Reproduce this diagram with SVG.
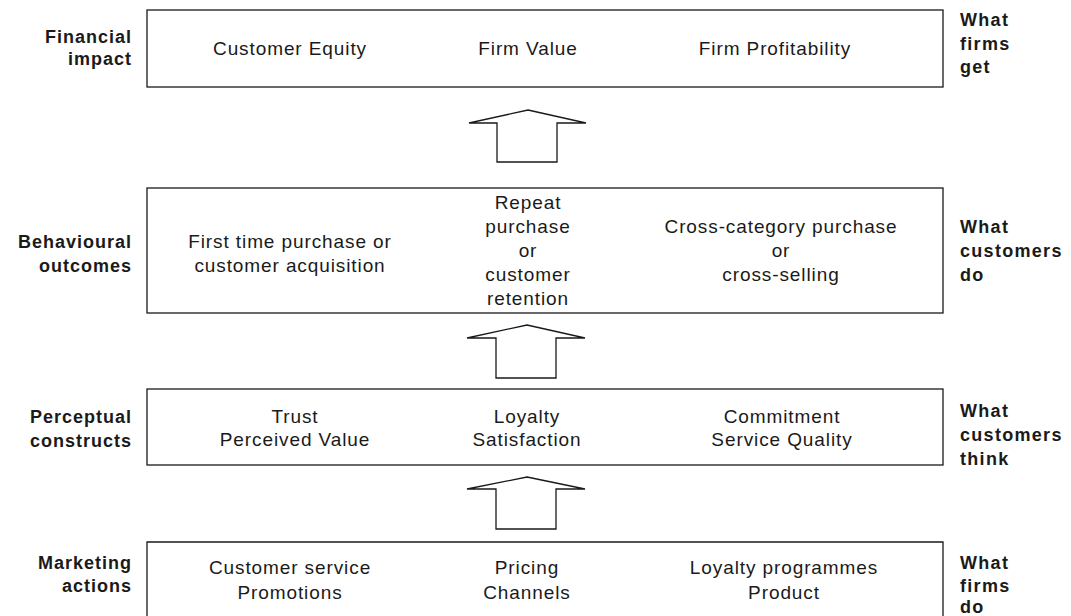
<svg xmlns="http://www.w3.org/2000/svg" width="1071" height="616" viewBox="0 0 1071 616">
<style>
.box{fill:none;stroke:#1a1a1a;stroke-width:1.3}
.arr{fill:#fff;stroke:#1a1a1a;stroke-width:1.3;stroke-linejoin:miter}
.t{font-family:"Liberation Sans",Arial,sans-serif;font-size:19px;letter-spacing:0.9px;fill:#1a1a1a;text-anchor:middle}
.l{font-family:"Liberation Sans",Arial,sans-serif;font-size:18px;font-weight:bold;letter-spacing:1px;fill:#1a1a1a;text-anchor:end}
.r{font-family:"Liberation Sans",Arial,sans-serif;font-size:18px;font-weight:bold;letter-spacing:1.3px;fill:#1a1a1a;text-anchor:start}
</style>
<rect width="1071" height="616" fill="#fff"/>
<g id="financial">
<rect class="box" x="147" y="10" width="796" height="77"/>
<text class="l"><tspan x="132" y="43">Financial</tspan><tspan x="132" y="65">impact</tspan></text>
<text class="t" x="290" y="55">Customer Equity</text>
<text class="t" x="528" y="55">Firm Value</text>
<text class="t" x="775" y="55">Firm Profitability</text>
<text class="r"><tspan x="960" y="26">What</tspan><tspan x="960" y="50">firms</tspan><tspan x="960" y="73">get</tspan></text>
</g>
<g id="behavioural">
<rect class="box" x="147" y="188" width="796" height="125"/>
<text class="l"><tspan x="132" y="248">Behavioural</tspan><tspan x="132" y="272">outcomes</tspan></text>
<text class="t"><tspan x="290" y="248">First time purchase or</tspan><tspan x="290" y="272">customer acquisition</tspan></text>
<text class="t"><tspan x="528" y="209">Repeat</tspan><tspan x="528" y="233">purchase</tspan><tspan x="528" y="257">or</tspan><tspan x="528" y="281">customer</tspan><tspan x="528" y="305">retention</tspan></text>
<text class="t"><tspan x="781" y="233">Cross-category purchase</tspan><tspan x="781" y="257">or</tspan><tspan x="781" y="281">cross-selling</tspan></text>
<text class="r"><tspan x="960" y="233">What</tspan><tspan x="960" y="257">customers</tspan><tspan x="960" y="281">do</tspan></text>
</g>
<g id="perceptual">
<rect class="box" x="147" y="389" width="796" height="76"/>
<text class="l"><tspan x="132" y="423">Perceptual</tspan><tspan x="132" y="447">constructs</tspan></text>
<text class="t"><tspan x="295" y="423">Trust</tspan><tspan x="295" y="446">Perceived Value</tspan></text>
<text class="t"><tspan x="527" y="423">Loyalty</tspan><tspan x="527" y="446">Satisfaction</tspan></text>
<text class="t"><tspan x="782" y="423">Commitment</tspan><tspan x="782" y="446">Service Quality</tspan></text>
<text class="r"><tspan x="960" y="417">What</tspan><tspan x="960" y="441">customers</tspan><tspan x="960" y="465">think</tspan></text>
</g>
<g id="marketing">
<path class="box" d="M147,630 V542 H943 V630"/>
<text class="l"><tspan x="132" y="569">Marketing</tspan><tspan x="132" y="592">actions</tspan></text>
<text class="t"><tspan x="290" y="574">Customer service</tspan><tspan x="290" y="599">Promotions</tspan></text>
<text class="t"><tspan x="527" y="574">Pricing</tspan><tspan x="527" y="599">Channels</tspan></text>
<text class="t"><tspan x="784" y="574">Loyalty programmes</tspan><tspan x="784" y="599">Product</tspan></text>
<text class="r"><tspan x="960" y="569">What</tspan><tspan x="960" y="592">firms</tspan><tspan x="960" y="613">do</tspan></text>
</g>
<g id="connectors">
<polygon class="arr" points="528,110 586,123 557,123 557,162 497,162 497,123 469,123"/>
<polygon class="arr" points="527,325 585,338 556,338 556,378 496,378 496,338 467,338"/>
<polygon class="arr" points="527,477 585,489 556,489 556,529 496,529 496,489 467,489"/>
</g>
</svg>
